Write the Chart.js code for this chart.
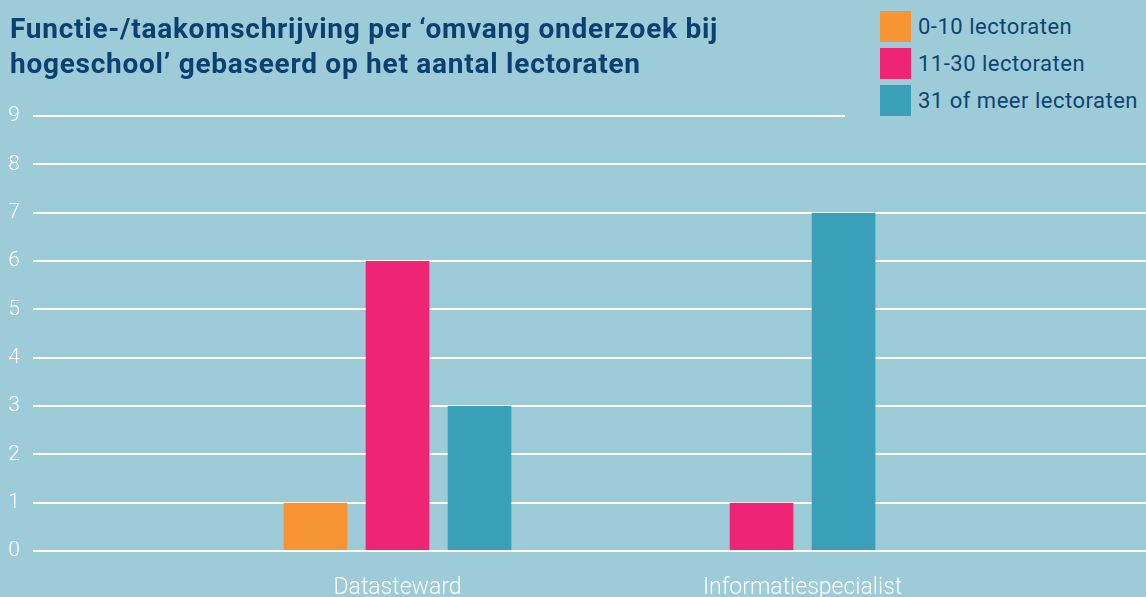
<!DOCTYPE html>
<html lang="nl">
<head>
<meta charset="utf-8">
<script src="https://cdn.jsdelivr.net/npm/chart.js@4"></script>
<style>
  html, body { margin: 0; padding: 0; background: #9dcbd7; }
  #wrap { position: relative; width: 1146px; height: 597px; overflow: hidden; }
  #chart { position: absolute; left: 0; top: 0; }
  .title {
    position: absolute; left: 10px; top: 11px;
    font: 700 28px/35px Roboto, sans-serif; letter-spacing: 0.75px; color: #0b4070;
    margin: 0;
  }
  .legend {
    position: absolute; left: 845px; top: 6px; width: 301px; height: 112px;
    background: #9dcbd7; padding-left: 35px; box-sizing: border-box;
  }
  .legend .item { display: flex; align-items: center; height: 31px; margin: 5px 0 6px; }
  .legend .box { width: 31px; height: 31px; margin-right: 7px; flex: none; }
  .legend span { font: 400 22px Roboto, sans-serif; letter-spacing: 0.5px; color: #0d4474; white-space: nowrap; }
</style>
</head>
<body>
<div id="wrap">
  <canvas id="chart" width="1146" height="597"></canvas>
  <h1 class="title">Functie-/taakomschrijving per ‘omvang onderzoek bij<br>hogeschool’ gebaseerd op het aantal lectoraten</h1>
  <div class="legend" id="legend"></div>
</div>
<script>
const categories = ["Datasteward", "Informatiespecialist"];
const seriesNames = ["0-10 lectoraten", "11-30 lectoraten", "31 of meer lectoraten"];

// values per category; null = no bar drawn in the reference
const small = [1, null];
const medium = [6, 1];
const large = [3, 7];

const yMin = 0;
const yMax = 9;

const colors = ["#f79433", "#ef2474", "#3aa0ba"];

/* ---------- Legend ---------- */
const legendEl = document.getElementById("legend");
seriesNames.forEach((name, i) => {
  const item = document.createElement("div");
  item.className = "item";
  item.innerHTML = `<div class="box" style="background:${colors[i]}"></div><span>${name}</span>`;
  legendEl.appendChild(item);
});

/* ---------- Chart ---------- */
const toPoints = arr => arr.map((v, i) => ({ x: i, y: v }));

const ctx = document.getElementById("chart").getContext("2d");
new Chart(ctx, {
  type: "bar",
  data: {
    datasets: [small, medium, large].map((vals, i) => ({
      label: seriesNames[i],
      data: toPoints(vals),
      backgroundColor: colors[i],
    })),
  },
  options: {
    responsive: false,
    animation: false,
    layout: { padding: { top: 116, left: 0, right: 0, bottom: 0 } },
    datasets: {
      bar: {
        skipNull: true,
        barThickness: 82,
        // transparent side borders leave the gap between bars
        borderWidth: { left: 9.5, right: 9.5, top: 0, bottom: 0 },
        borderColor: "rgba(0,0,0,0)",
        borderSkipped: false,
        borderRadius: 0,
      },
    },
    plugins: {
      legend: { display: false },
      tooltip: { enabled: false },
      title: { display: false },
    },
    scales: {
      x: {
        type: "linear",
        offset: false,
        min: -0.9,
        max: 1.848,
        grid: { display: false, drawTicks: false },
        border: { display: false },
        afterFit: s => { s.height = 46; },
        ticks: {
          stepSize: 1,
          includeBounds: false,
          padding: 23,
          color: "#ffffff",
          font: { family: "Roboto", size: 23, weight: "300" },
          callback: v => categories[v] ?? "",
        },
      },
      y: {
        min: yMin,
        max: yMax,
        afterFit: s => { s.width = 33; },
        grid: { color: "#ffffff", lineWidth: 2, drawTicks: false },
        border: { display: false },
        ticks: {
          stepSize: 1,
          padding: 13,
          color: "#ffffff",
          font: { family: "Roboto", size: 21, weight: "300" },
        },
      },
    },
  },
});
</script>
</body>
</html>
